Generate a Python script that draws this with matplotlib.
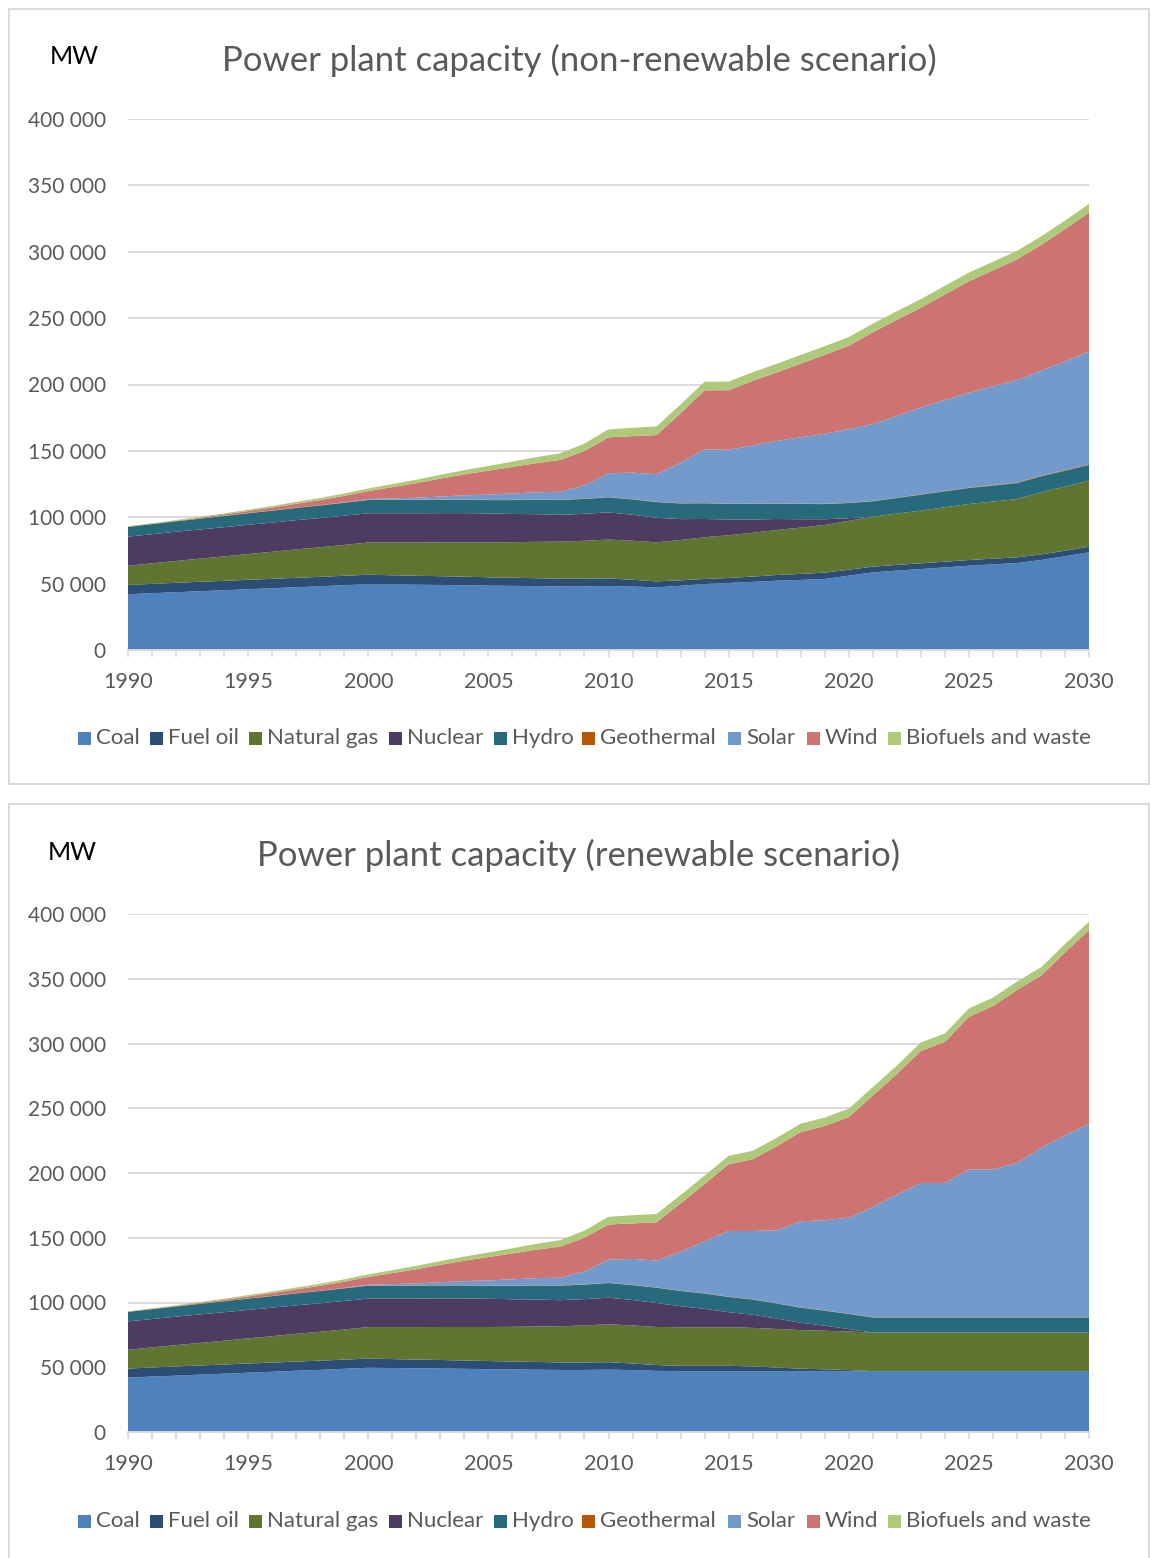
import numpy as np
import matplotlib
matplotlib.use("Agg")
import matplotlib.pyplot as plt
from matplotlib.patches import Rectangle
from matplotlib.ticker import FuncFormatter, MultipleLocator

plt.rcParams['font.family'] = ['Lato', 'DejaVu Sans']

W, H = 1151, 1558

years = list(range(1990, 2031))
series_names = ["Coal", "Fuel oil", "Natural gas", "Nuclear", "Hydro",
                "Geothermal", "Solar", "Wind", "Biofuels and waste"]
colors = ["#4F81BD", "#2C4D75", "#5F7530", "#4D3B62", "#276A7C",
          "#B65708", "#729ACA", "#CD7371", "#AFC97A"]

# History 1990-2012 (thousand MW), same in both scenarios
hist_coal = [42.0, 42.8, 43.5, 44.3, 45.0, 45.8, 46.5, 47.3, 48.0, 48.8, 49.6, 49.4,
             49.2, 49.0, 48.8, 48.5, 48.3, 48.1, 47.9, 47.9, 48.2, 47.8, 47.2]
hist_fuel_oil = [7.0, 7.0, 7.1, 7.1, 7.1, 7.1, 7.1, 7.1, 7.1, 7.1, 7.1, 6.9,
                 6.7, 6.6, 6.4, 6.3, 6.1, 6.0, 5.8, 5.8, 5.7, 5.1, 4.5]
hist_gas = [14.5, 15.5, 16.5, 17.4, 18.4, 19.4, 20.4, 21.4, 22.3, 23.3, 24.3, 24.7,
            25.1, 25.5, 25.9, 26.3, 26.8, 27.4, 27.9, 28.6, 29.3, 29.4, 29.4]
hist_nuclear = [21.9, 21.9, 22.0, 22.0, 22.0, 22.0, 22.0, 22.0, 22.0, 22.0, 22.0, 22.0,
                22.0, 22.0, 22.0, 21.8, 21.3, 20.8, 20.2, 20.3, 20.5, 19.6, 18.5]
hist_hydro = [7.3, 7.6, 7.8, 8.1, 8.4, 8.7, 8.9, 9.2, 9.5, 9.7, 10.0, 10.0,
              10.0, 10.0, 10.0, 10.0, 10.4, 10.8, 11.2, 11.2, 11.3, 11.5, 11.8]
hist_geothermal = [0.2, 0.2, 0.2, 0.2, 0.2, 0.2, 0.2, 0.2, 0.2, 0.2, 0.2, 0.2,
                   0.2, 0.2, 0.2, 0.2, 0.2, 0.2, 0.2, 0.2, 0.2, 0.2, 0.2]
hist_solar = [0.0, 0.0, 0.0, 0.0, 0.0, 0.0, 0.0, 0.0, 0.0, 0.2, 0.5, 1.0,
              1.5, 2.3, 3.2, 4.0, 4.8, 5.5, 6.0, 10.0, 18.0, 20.0, 20.8]
hist_wind = [0.0, 0.1, 0.3, 0.6, 1.0, 1.5, 2.2, 3.0, 3.8, 4.8, 6.0, 8.5,
             11.0, 13.5, 15.8, 18.0, 20.0, 22.0, 24.0, 26.0, 27.0, 27.5, 29.5]
hist_bio = [0.3, 0.4, 0.5, 0.7, 0.8, 1.0, 1.2, 1.4, 1.6, 1.8, 2.0, 2.3,
            2.6, 2.9, 3.2, 3.5, 4.0, 4.5, 5.0, 5.5, 6.0, 6.3, 6.5]

# Non-renewable scenario 2013-2030
nonren_coal = [48.4, 49.7, 50.5, 51.3, 52.2, 52.8, 53.5, 56.0, 58.5,
               59.8, 61.0, 62.2, 63.5, 64.5, 65.5, 67.8, 70.6, 73.6]
nonren_fuel_oil = [4.1, 3.8, 3.8, 4.0, 4.3, 4.5, 4.8, 4.5, 4.3,
                   4.3, 4.3, 4.3, 4.3, 4.3, 4.3, 4.2, 4.2, 4.2]
nonren_gas = [30.4, 31.4, 32.2, 33.0, 33.9, 34.9, 35.9, 36.8, 37.6,
              38.6, 39.7, 41.0, 42.2, 43.0, 43.9, 46.8, 48.3, 49.8]
nonren_nuclear = [15.7, 13.8, 11.8, 10.0, 8.3, 6.3, 4.3, 2.0, 0.0,
                  0.0, 0.0, 0.0, 0.0, 0.0, 0.0, 0.0, 0.0, 0.0]
nonren_hydro = [11.8, 11.8, 11.8, 11.7, 11.6, 11.5, 11.4, 11.4, 11.6,
                11.8, 12.0, 12.0, 12.0, 12.0, 12.0, 12.0, 11.9, 11.8]
nonren_geothermal = [0.2, 0.2, 0.2, 0.2, 0.2, 0.2, 0.2, 0.2, 0.2,
                     0.2, 0.3, 0.3, 0.3, 0.4, 0.4, 0.5, 0.5, 0.5]
nonren_solar = [30.5, 40.5, 40.5, 43.8, 47.0, 50.0, 52.7, 55.5, 58.0,
                61.5, 65.3, 68.5, 71.5, 74.5, 77.2, 79.0, 82.0, 85.0]
nonren_wind = [37.3, 44.4, 44.9, 48.7, 51.6, 55.5, 59.6, 62.8, 69.1,
               72.5, 75.2, 79.5, 84.0, 87.2, 90.9, 94.7, 99.5, 104.6]
nonren_bio = [6.5, 6.5, 6.5, 6.5, 6.5, 6.5, 6.5, 6.5, 6.5,
              6.5, 6.5, 6.5, 6.5, 6.5, 6.5, 6.5, 6.5, 6.5]

# Renewable scenario 2013-2030
ren_coal = [47.0, 47.0, 47.0, 47.0, 47.0, 47.0, 47.0, 47.0, 47.0,
            47.0, 47.0, 47.0, 47.0, 47.0, 47.0, 47.0, 47.0, 47.0]
ren_fuel_oil = [4.1, 4.1, 4.1, 3.6, 2.8, 1.9, 1.4, 0.8, 0.0,
                0.0, 0.0, 0.0, 0.0, 0.0, 0.0, 0.0, 0.0, 0.0]
ren_gas = [29.8, 29.8, 29.8, 29.8, 29.8, 29.8, 29.8, 29.8, 29.8,
           29.8, 29.8, 29.8, 29.8, 29.8, 29.8, 29.8, 29.8, 29.8]
ren_nuclear = [16.2, 14.2, 11.6, 10.2, 8.0, 5.7, 3.9, 1.9, 0.0,
               0.0, 0.0, 0.0, 0.0, 0.0, 0.0, 0.0, 0.0, 0.0]
ren_hydro = [11.8, 11.8, 11.8, 11.7, 11.6, 11.6, 11.6, 11.6, 11.6,
             11.6, 11.6, 11.6, 11.6, 11.6, 11.6, 11.6, 11.6, 11.6]
ren_geothermal = [0.2, 0.2, 0.2, 0.2, 0.2, 0.2, 0.2, 0.2, 0.2,
                  0.2, 0.2, 0.2, 0.2, 0.2, 0.2, 0.2, 0.2, 0.2]
ren_solar = [29.9, 40.4, 50.7, 52.7, 56.4, 66.5, 69.6, 74.2, 85.2,
             94.8, 103.7, 103.7, 114.2, 114.2, 119.1, 130.7, 140.4, 149.2]
ren_wind = [37.5, 44.0, 51.6, 55.4, 64.8, 68.9, 72.8, 77.7, 86.0,
            93.0, 102.0, 108.9, 117.8, 126.1, 133.6, 133.0, 141.3, 149.7]
ren_bio = [6.5, 6.5, 6.5, 6.5, 6.5, 6.5, 6.5, 6.5, 6.5,
           6.5, 6.5, 6.5, 6.5, 6.5, 6.5, 6.5, 6.5, 6.5]

history = [hist_coal, hist_fuel_oil, hist_gas, hist_nuclear, hist_hydro,
           hist_geothermal, hist_solar, hist_wind, hist_bio]
nonren = [nonren_coal, nonren_fuel_oil, nonren_gas, nonren_nuclear, nonren_hydro,
          nonren_geothermal, nonren_solar, nonren_wind, nonren_bio]
ren = [ren_coal, ren_fuel_oil, ren_gas, ren_nuclear, ren_hydro,
       ren_geothermal, ren_solar, ren_wind, ren_bio]

GRID = "#D9D9D9"
TEXT = "#595959"
legend_x = [78, 150, 249, 389, 494, 582, 728, 807, 888]


def fx(px):
    return px / W


def fy(py):
    return 1 - py / H


def draw_panel(fig, box_top, box_bottom, ax_top, ax_bottom, title, mw_x, title_y, legend_y, future):
    # light frame around each chart
    fig.patches.append(Rectangle((fx(9), fy(box_bottom)), fx(1140), (box_bottom - box_top) / H,
                                 transform=fig.transFigure, fill=False,
                                 edgecolor=GRID, linewidth=1.4))

    ax = fig.add_axes([fx(128), fy(ax_bottom), fx(961), (ax_bottom - ax_top) / H])
    stacks = [np.array(h + f) * 1000 for h, f in zip(history, future)]
    ax.stackplot(years, *stacks, colors=colors, linewidth=0)

    ax.set_xlim(1990, 2030)
    ax.set_ylim(0, 400000)
    ax.yaxis.set_major_locator(MultipleLocator(50000))
    ax.yaxis.set_major_formatter(FuncFormatter(lambda v, p: f"{int(v):,}".replace(",", " ")))
    ax.set_xticks(range(1990, 2031, 5))
    ax.set_xticks(years, minor=True)
    ax.grid(axis="y", color=GRID, linewidth=1.4)
    ax.set_axisbelow(True)
    for s in ["top", "right", "left"]:
        ax.spines[s].set_visible(False)
    ax.spines["bottom"].set_color(GRID)
    ax.spines["bottom"].set_linewidth(1.4)
    ax.spines["bottom"].set_zorder(5)
    ax.tick_params(axis="y", length=0, pad=16, labelsize=15, labelcolor=TEXT)
    ax.tick_params(axis="x", which="both", length=5, width=1.2, color=GRID,
                   labelsize=15.5, labelcolor=TEXT, pad=10.5)

    fig.text(fx(579), fy(title_y), title, ha="center", va="center", fontsize=25, color=TEXT)
    fig.text(fx(mw_x), fy(title_y - 3), "MW", ha="center", va="center", fontsize=18, color="black")

    for name, c, lx in zip(series_names, colors, legend_x):
        fig.patches.append(Rectangle((fx(lx), fy(legend_y + 6.5)), fx(13), 13 / H,
                                     transform=fig.transFigure, facecolor=c, edgecolor="none"))
        fig.text(fx(lx + 18), fy(legend_y), name, ha="left", va="center",
                 fontsize=16, color=TEXT)
    return ax


fig = plt.figure(figsize=(W / 100, H / 100), dpi=100)
draw_panel(fig, 9, 784, 119, 650, "Power plant capacity (non-renewable scenario)",
           74, 60, 738, nonren)
draw_panel(fig, 804, 1575, 914, 1432, "Power plant capacity (renewable scenario)",
           72, 855, 1521, ren)

fig.savefig("out.png", dpi=100)
